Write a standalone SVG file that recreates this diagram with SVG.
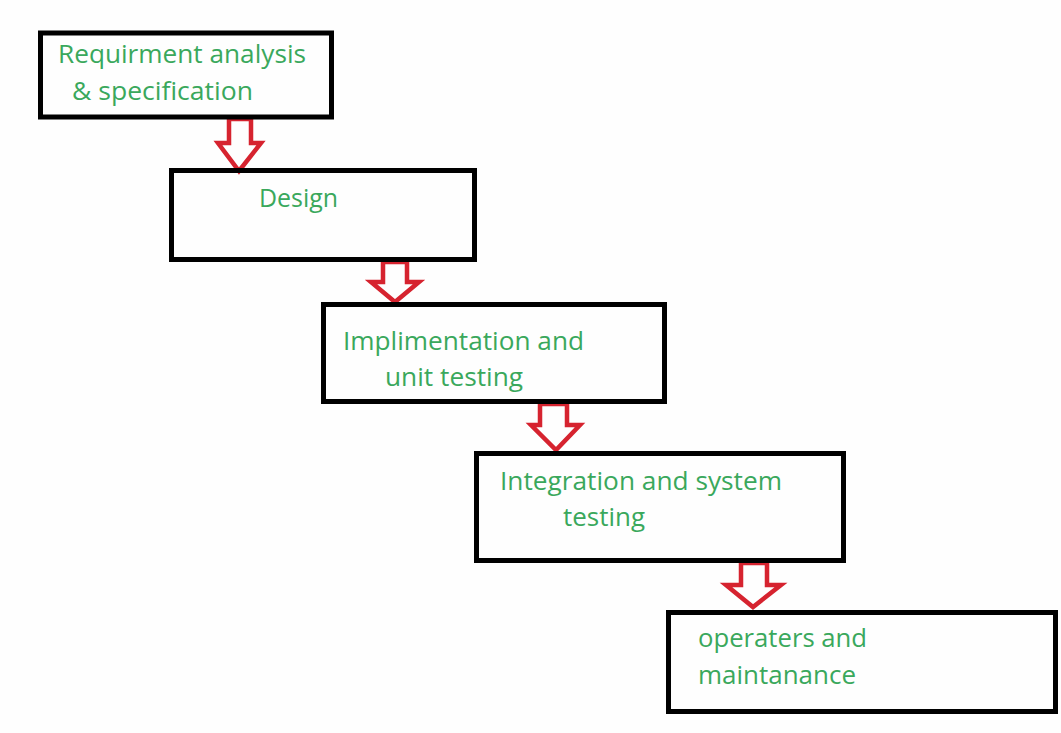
<svg xmlns="http://www.w3.org/2000/svg" width="1061" height="733" viewBox="0 0 1061 733">
<style>
.box{fill:none;stroke:#000;stroke-width:5}
.arr{fill:none;stroke:#d6232f;stroke-width:4.5;stroke-linejoin:miter}
.t{font-family:"Open Sans","Liberation Sans",sans-serif;font-size:25px;fill:#3aa85c}
</style>
<rect width="1061" height="733" fill="#fefefe"/>
<g id="connectors">
<polygon class="arr" points="229,119 229,143 218,143 239,171 261,143 251,143 251,119"/>
<polygon class="arr" points="383,262 383,282 371,282 395,302 419,282 407,282 407,262"/>
<polygon class="arr" points="540,404 540,425 531,425 556,450 580,425 567,425 567,404"/>
<polygon class="arr" points="741,563 741,585 726,585 753,607 781,585 767,585 767,563"/>
</g>
<g id="node1">
<rect class="box" x="40.5" y="33" width="291" height="84"/>
<text class="t" x="58" y="63" textLength="248" lengthAdjust="spacingAndGlyphs">Requirment analysis</text>
<text class="t" x="72" y="100" textLength="181" lengthAdjust="spacingAndGlyphs">&amp; specification</text>
</g>
<g id="node2">
<rect class="box" x="171.5" y="170.5" width="303" height="89"/>
<text class="t" x="259" y="207" textLength="79" lengthAdjust="spacingAndGlyphs">Design</text>
</g>
<g id="node3">
<rect class="box" x="323.5" y="304.5" width="341" height="97"/>
<text class="t" x="343" y="350" textLength="241" lengthAdjust="spacingAndGlyphs">Implimentation and</text>
<text class="t" x="385" y="386" textLength="138" lengthAdjust="spacingAndGlyphs">unit testing</text>
</g>
<g id="node4">
<rect class="box" x="476.5" y="453.5" width="367" height="107"/>
<text class="t" x="500" y="490" textLength="282" lengthAdjust="spacingAndGlyphs">Integration and system</text>
<text class="t" x="563" y="526" textLength="82" lengthAdjust="spacingAndGlyphs">testing</text>
</g>
<g id="node5">
<rect class="box" x="668.5" y="612.5" width="387" height="99"/>
<text class="t" x="698" y="647" textLength="169" lengthAdjust="spacingAndGlyphs">operaters and</text>
<text class="t" x="698" y="684" textLength="158" lengthAdjust="spacingAndGlyphs">maintanance</text>
</g>
</svg>
